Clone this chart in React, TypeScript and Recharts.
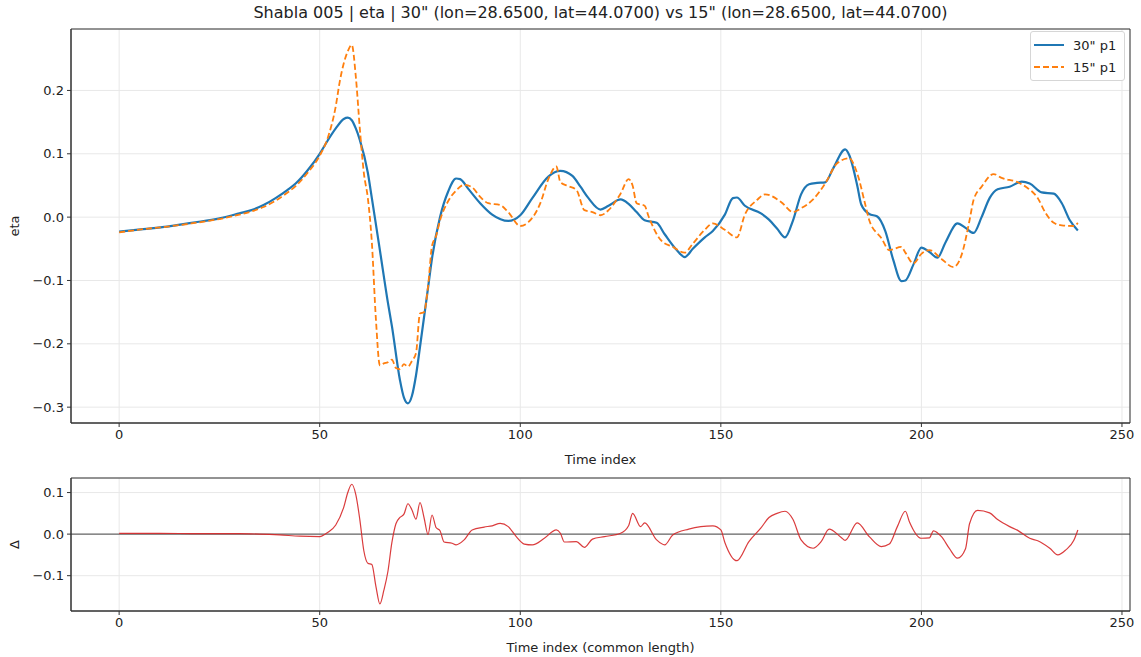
import React from 'react';
import {
  LineChart,
  CartesianGrid,
  XAxis,
  YAxis,
  Legend,
  Line,
  ReferenceLine,
  ReferenceArea,
} from 'recharts';

// 30" series (time index, eta)
const time30 = [0, 6, 12, 18, 25, 30, 33, 36, 39, 42, 44, 47, 50, 52, 54, 56, 57, 58, 59, 60, 62, 63, 65, 67, 68, 70, 71, 72, 73, 74, 75, 77, 78, 80, 82, 84, 85, 87, 90, 93, 97, 100, 103, 107, 110, 113, 115, 117, 120, 122, 125, 127, 129, 131, 134, 136, 139, 141, 143, 146, 148, 151, 153, 154, 156, 160, 162, 164, 166, 168, 170, 172, 174, 176, 178, 181, 182, 184, 185, 187, 189, 191, 193, 195, 196, 198, 200, 202, 204, 206, 209, 211, 213, 215, 217, 219, 222, 225, 227, 230, 233, 235, 237, 239];
const eta30 = [-0.023, -0.019, -0.015, -0.009, -0.002, 0.006, 0.011, 0.019, 0.030, 0.043, 0.053, 0.074, 0.100, 0.121, 0.140, 0.155, 0.157, 0.153, 0.140, 0.122, 0.070, 0.030, -0.052, -0.135, -0.172, -0.257, -0.285, -0.294, -0.282, -0.250, -0.205, -0.112, -0.065, 0.000, 0.040, 0.061, 0.060, 0.045, 0.022, 0.004, -0.006, 0.003, 0.030, 0.064, 0.073, 0.065, 0.048, 0.030, 0.012, 0.018, 0.028, 0.021, 0.008, -0.005, -0.009, -0.027, -0.052, -0.063, -0.050, -0.032, -0.022, 0.004, 0.030, 0.031, 0.018, 0.006, -0.004, -0.018, -0.032, -0.005, 0.036, 0.052, 0.054, 0.055, 0.077, 0.107, 0.098, 0.050, 0.020, 0.005, 0.001, -0.022, -0.068, -0.101, -0.100, -0.075, -0.048, -0.055, -0.064, -0.040, -0.010, -0.017, -0.025, 0.000, 0.030, 0.044, 0.048, 0.056, 0.053, 0.039, 0.037, 0.022, -0.005, -0.021];

// 15" series
const time15 = [0, 6, 12, 18, 25, 30, 33, 36, 39, 42, 44, 47, 50, 52, 54, 55, 57, 58, 59, 60, 61, 62, 63, 64, 65, 66, 67, 68, 69, 70, 71, 72, 73, 74, 75, 76, 77, 78, 79, 80, 82, 84, 86, 88, 90, 92, 95, 97, 100, 102, 105, 107, 109, 110, 112, 114, 116, 118, 120, 122, 125, 127, 128, 129, 131, 132, 135, 138, 141, 143, 146, 148, 151, 154, 156, 159, 161, 165, 168, 170, 173, 176, 179, 182, 184, 186, 187, 190, 192, 195, 196, 198, 200, 202, 205, 208, 210, 212, 213, 215, 218, 220, 224, 226, 229, 231, 233, 235, 238, 239];
const eta15 = [-0.024, -0.019, -0.015, -0.010, -0.003, 0.004, 0.009, 0.016, 0.026, 0.039, 0.049, 0.070, 0.097, 0.125, 0.175, 0.214, 0.262, 0.272, 0.222, 0.140, 0.070, 0.030, -0.040, -0.160, -0.234, -0.231, -0.229, -0.225, -0.238, -0.240, -0.232, -0.236, -0.227, -0.215, -0.152, -0.150, -0.110, -0.045, -0.030, -0.005, 0.025, 0.042, 0.051, 0.047, 0.032, 0.022, 0.019, 0.008, -0.014, -0.008, 0.022, 0.060, 0.080, 0.055, 0.049, 0.043, 0.011, 0.008, 0.003, 0.011, 0.037, 0.060, 0.050, 0.022, 0.018, 0.001, -0.036, -0.047, -0.056, -0.042, -0.020, -0.010, -0.020, -0.032, 0.004, 0.027, 0.036, 0.024, 0.008, 0.014, 0.028, 0.053, 0.085, 0.093, 0.069, 0.020, -0.005, -0.033, -0.052, -0.047, -0.056, -0.073, -0.058, -0.052, -0.066, -0.079, -0.060, -0.005, 0.027, 0.048, 0.068, 0.062, 0.055, 0.048, 0.030, 0.006, -0.009, -0.013, -0.014, -0.009];

// difference panel (common length)
const timeDelta = [0, 10, 20, 30, 35, 40, 45, 50, 52, 54, 56, 57, 58, 59, 60, 61, 62, 63, 64, 65, 66, 67, 68, 69, 70, 71, 72, 73, 74, 75, 76, 77, 78, 79, 80, 81, 83, 84, 86, 88, 91, 93, 95, 97, 99, 101, 103, 106, 109, 110, 111, 114, 116, 118, 121, 125, 127, 128, 130, 131, 134, 136, 138, 142, 145, 148, 150, 151, 154, 157, 160, 162, 164, 166, 168, 170, 173, 175, 177, 180, 181, 184, 187, 190, 192, 194, 196, 197, 200, 202, 203, 205, 207, 209, 211, 212, 214, 217, 219, 222, 224, 227, 229, 232, 234, 236, 238, 239];
const delta = [0.002, 0.002, 0.001, 0.001, 0.000, -0.002, -0.005, -0.006, 0.004, 0.022, 0.065, 0.100, 0.120, 0.095, 0.035, -0.040, -0.070, -0.073, -0.125, -0.168, -0.135, -0.090, -0.020, 0.025, 0.040, 0.048, 0.073, 0.058, 0.036, 0.076, 0.040, -0.001, 0.046, 0.016, 0.008, -0.019, -0.022, -0.026, -0.014, 0.010, 0.017, 0.020, 0.026, 0.018, -0.006, -0.024, -0.026, -0.010, 0.010, 0.002, -0.019, -0.018, -0.032, -0.012, -0.006, 0.002, 0.020, 0.050, 0.018, 0.027, -0.014, -0.026, -0.002, 0.012, 0.018, 0.020, 0.010, -0.020, -0.064, -0.018, 0.015, 0.040, 0.050, 0.055, 0.035, -0.014, -0.034, -0.018, 0.012, -0.008, -0.015, 0.027, -0.006, -0.030, -0.024, 0.018, 0.055, 0.030, -0.010, -0.009, 0.008, -0.006, -0.035, -0.058, -0.035, 0.025, 0.057, 0.051, 0.035, 0.018, 0.009, -0.010, -0.016, -0.034, -0.050, -0.038, -0.015, 0.010];

const xTicks = [0, 50, 100, 150, 200, 250];
const etaTicks = [-0.3, -0.2, -0.1, 0, 0.1, 0.2];
const deltaTicks = [-0.1, 0, 0.1];

const FONT = '"DejaVu Sans", sans-serif';
const INK = '#222';
const X_DOMAIN: [number, number] = [-12, 252];
const ETA_DOMAIN: [number, number] = [-0.325, 0.297];
const DELTA_DOMAIN: [number, number] = [-0.185, 0.135];

const toRows = (ts: number[], vs: number[]) => ts.map((t, i) => ({ t, v: vs[i] }));
const rows30 = toRows(time30, eta30);
const rows15 = toRows(time15, eta15);
const rowsDelta = toRows(timeDelta, delta);

const fmt = (v: number) => v.toFixed(1).replace('-', '\u2212');

const legendItems = [
  { name: '30" p1', color: '#1f77b4', dash: undefined },
  { name: '15" p1', color: '#ff7f0e', dash: '6 3' },
];

const LegendBox = () => (
  <div
    style={{
      border: '1px solid #d6d6d6',
      borderRadius: 3,
      background: 'rgba(255,255,255,0.85)',
      padding: '2px 6px 2px 3px',
      fontFamily: FONT,
      fontSize: 13,
      color: INK,
    }}
  >
    {legendItems.map((it) => (
      <div key={it.name} style={{ display: 'flex', alignItems: 'center', height: 22 }}>
        <svg width={30} height={10} style={{ marginRight: 9 }}>
          <line x1={0} y1={5} x2={30} y2={5} stroke={it.color} strokeWidth={2} strokeDasharray={it.dash} />
        </svg>
        <span>{it.name}</span>
      </div>
    ))}
  </div>
);

const tickStyle = { fill: INK, fontSize: 13 };

export default function App() {
  return (
    <div style={{ position: 'absolute', left: 0, top: 0, width: 1141, height: 657, background: '#fff', fontFamily: FONT }}>
      <div
        style={{
          position: 'absolute', left: 71, top: 4, width: 1059, textAlign: 'center',
          fontSize: 16, lineHeight: '18px', color: INK,
        }}
      >
        Shabla 005 | eta | 30" (lon=28.6500, lat=44.0700) vs 15" (lon=28.6500, lat=44.0700)
      </div>

      <div style={{ position: 'absolute', left: 0, top: 0 }}>
        <LineChart width={1141} height={470} margin={{ top: 29, right: 11, bottom: 0, left: 0 }}>
          <CartesianGrid stroke="#e8e8e8" />
          <XAxis
            type="number"
            dataKey="t"
            domain={X_DOMAIN}
            ticks={xTicks}
            allowDataOverflow
            tick={tickStyle}
            tickSize={4}
            tickMargin={3}
            stroke="#333"
            height={47}
            label={{ value: 'Time index', position: 'insideBottom', offset: 6, fill: INK, fontSize: 13 }}
          />
          <YAxis
            type="number"
            domain={ETA_DOMAIN}
            ticks={etaTicks}
            allowDataOverflow
            tickFormatter={fmt}
            tick={tickStyle}
            tickSize={4}
            tickMargin={3}
            stroke="#333"
            width={71}
            label={{ value: 'eta', angle: -90, position: 'insideLeft', offset: 14, fill: INK, fontSize: 13, style: { textAnchor: 'middle' } }}
          />
          <ReferenceArea x1={X_DOMAIN[0]} x2={X_DOMAIN[1]} y1={ETA_DOMAIN[0]} y2={ETA_DOMAIN[1]} fill="none" stroke="#333" strokeWidth={1} />
          <Legend
            layout="vertical"
            align="center"
            verticalAlign="middle"
            content={<LegendBox />}
            wrapperStyle={{ left: 1030, top: 31, width: 95 }}
          />
          <Line data={rows30} dataKey="v" name='30" p1' type="monotone" stroke="#1f77b4" strokeWidth={2.2} dot={false} isAnimationActive={false} />
          <Line data={rows15} dataKey="v" name='15" p1' type="monotone" stroke="#ff7f0e" strokeWidth={1.8} strokeDasharray="6 3" dot={false} isAnimationActive={false} />
        </LineChart>
      </div>

      <div style={{ position: 'absolute', left: 0, top: 470 }}>
        <LineChart width={1141} height={187} margin={{ top: 8, right: 11, bottom: 0, left: 0 }}>
          <CartesianGrid stroke="#e8e8e8" />
          <XAxis
            type="number"
            dataKey="t"
            domain={X_DOMAIN}
            ticks={xTicks}
            allowDataOverflow
            tick={tickStyle}
            tickSize={4}
            tickMargin={3}
            stroke="#333"
            height={46}
            label={{ value: 'Time index (common length)', position: 'insideBottom', offset: 5, fill: INK, fontSize: 13 }}
          />
          <YAxis
            type="number"
            domain={DELTA_DOMAIN}
            ticks={deltaTicks}
            allowDataOverflow
            tickFormatter={fmt}
            tick={tickStyle}
            tickSize={4}
            tickMargin={3}
            stroke="#333"
            width={71}
            label={{ value: 'Δ', angle: -90, position: 'insideLeft', offset: 14, fill: INK, fontSize: 13, style: { textAnchor: 'middle' } }}
          />
          <ReferenceArea x1={X_DOMAIN[0]} x2={X_DOMAIN[1]} y1={DELTA_DOMAIN[0]} y2={DELTA_DOMAIN[1]} fill="none" stroke="#333" strokeWidth={1} />
          <ReferenceLine y={0} stroke="#333" strokeWidth={0.9} />
          <Line data={rowsDelta} dataKey="v" type="monotone" stroke="#d62728" strokeWidth={1.2} strokeOpacity={0.9} dot={false} isAnimationActive={false} />
        </LineChart>
      </div>
    </div>
  );
}
